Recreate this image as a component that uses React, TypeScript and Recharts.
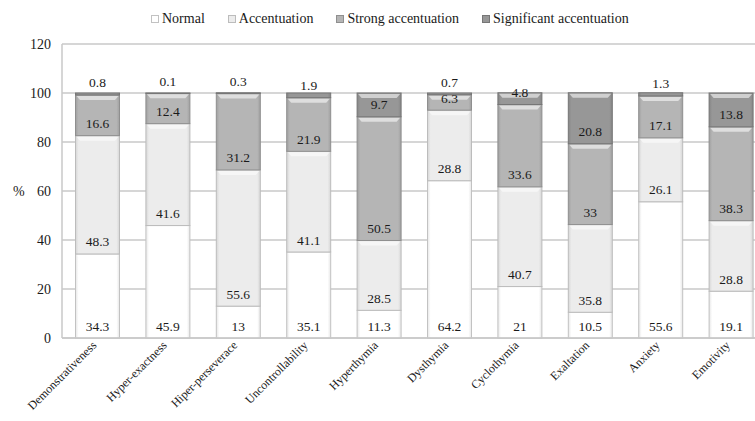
import React from 'react'
import {
  BarChart, Bar, XAxis, YAxis, CartesianGrid, Legend, LabelList,
} from 'recharts'

const categories = [
  'Demonstrativeness', 'Hyper-exactness', 'Hiper-perseverace', 'Uncontrollability',
  'Hyperthymia', 'Dysthymia', 'Cyclothymia', 'Exaltation', 'Anxiety', 'Emotivity',
]
const normal = [34.3, 45.9, 13, 35.1, 11.3, 64.2, 21, 10.5, 55.6, 19.1]
const accentuation = [48.3, 41.6, 55.6, 41.1, 28.5, 28.8, 40.7, 35.8, 26.1, 28.8]
const strong = [16.6, 12.4, 31.2, 21.9, 50.5, 6.3, 33.6, 33, 17.1, 38.3]
const significant = [0.8, 0.1, 0.3, 1.9, 9.7, 0.7, 4.8, 20.8, 1.3, 13.8]
const yTicks = [0, 20, 40, 60, 80, 100, 120]

const data = categories.map((name, i) => ({
  name,
  normal: normal[i],
  accentuation: accentuation[i],
  strong: strong[i],
  significant: significant[i],
}))

const FONT = 'Liberation Serif'

const series = [
  { key: 'normal', label: 'Normal', fill: '#ffffff', side: '#e6e6e6', edge: '#c2c2c2' },
  { key: 'accentuation', label: 'Accentuation', fill: '#ececec', side: '#d6d6d6', edge: '#bcbcbc' },
  { key: 'strong', label: 'Strong accentuation', fill: '#b5b5b5', side: '#a0a0a0', edge: '#8f8f8f' },
  { key: 'significant', label: 'Significant accentuation', fill: '#979797', side: '#868686', edge: '#767676' },
]

function bevelShape(key: string, edge: string) {
  return (props: any) => {
    const { x, y, width, height } = props
    if (width == null || height == null) return null
    const h = Math.max(height, 0.5)
    return (
      <g>
        <rect x={x + 0.5} y={y} width={width - 1} height={h} fill={`url(#g-${key})`} stroke={edge} strokeWidth={1} />
        {h > 7 && (
          <path
            d={`M${x + 1.5},${y + 1} L${x + width - 1.5},${y + 1} L${x + width - 5},${y + 5} L${x + 5},${y + 5} Z`}
            fill="#ffffff"
            opacity={0.55}
          />
        )}
      </g>
    )
  }
}

const segLabel = (props: any) => {
  const { x, y, width, height, value } = props
  return (
    <text
      x={x + width / 2}
      y={y + height - 12}
      textAnchor="middle"
      dominantBaseline="central"
      style={{ fontFamily: FONT, fontSize: 13.5 }}
      fill="#1a1a1a"
    >
      {value}
    </text>
  )
}

const XTick = (props: any) => {
  const { x, y, payload } = props
  const tx = x
  const ty = y
  return (
    <text
      x={tx}
      y={ty}
      transform={`rotate(-45, ${tx}, ${ty})`}
      textAnchor="end"
      style={{ fontFamily: FONT, fontSize: 12 }}
      fill="#1a1a1a"
    >
      {payload.value}
    </text>
  )
}

const LegendContent = () => (
  <div style={{ display: 'flex', fontFamily: FONT, fontSize: 14, color: '#1a1a1a', whiteSpace: 'nowrap' }}>
    {series.map((s) => (
      <div key={s.key} style={{ display: 'flex', alignItems: 'center', marginRight: 23 }}>
        <span
          style={{
            display: 'inline-block', width: 6, height: 6, marginRight: 3,
            background: s.fill, border: `1px solid ${s.edge}`,
          }}
        />
        <span>{s.label}</span>
      </div>
    ))}
  </div>
)

export default function App() {
  return (
    <div style={{ position: 'absolute', left: 0, top: 0, width: 755, height: 421, overflow: 'hidden', background: '#fff', fontFamily: FONT }}>
      <BarChart
        width={770}
        height={421}
        data={data}
        margin={{ top: 44, right: 4, left: 0, bottom: 0 }}
        style={{ fontFamily: FONT }}
      >
        <defs>
          {series.map((s) => (
            <linearGradient key={s.key} id={`g-${s.key}`} x1="0" y1="0" x2="1" y2="0">
              <stop offset="0%" stopColor={s.side} />
              <stop offset="7%" stopColor={s.fill} />
              <stop offset="93%" stopColor={s.fill} />
              <stop offset="100%" stopColor={s.side} />
            </linearGradient>
          ))}
        </defs>
        <CartesianGrid vertical={false} stroke="#c8c8c8" strokeWidth={1.5} />
        <XAxis
          dataKey="name"
          interval={0}
          height={83}
          tickLine={false}
          axisLine={{ stroke: '#c8c8c8', strokeWidth: 1.5 }}
          tick={<XTick />}
        />
        <YAxis
          width={62}
          domain={[0, 120]}
          ticks={yTicks}
          interval={0}
          tickLine={false}
          tickMargin={5}
          axisLine={{ stroke: '#c8c8c8', strokeWidth: 1.5 }}
          tick={{ fontFamily: FONT, fontSize: 14, fill: '#1a1a1a' }}
          label={{ value: '%', position: 'insideLeft', offset: 13, fontFamily: FONT, fontSize: 14, fill: '#1a1a1a' }}
        />
        <Legend
          verticalAlign="middle"
          layout="horizontal"
          align="center"
          wrapperStyle={{ top: 11, left: 151, width: 'auto' }}
          content={<LegendContent />}
        />
        {series.map((s) => (
          <Bar
            key={s.key}
            dataKey={s.key}
            stackId="a"
            barSize={45}
            fill={s.fill}
            shape={bevelShape(s.key, s.edge)}
            isAnimationActive={false}
          >
            <LabelList dataKey={s.key} content={segLabel} />
          </Bar>
        ))}
      </BarChart>
    </div>
  )
}
